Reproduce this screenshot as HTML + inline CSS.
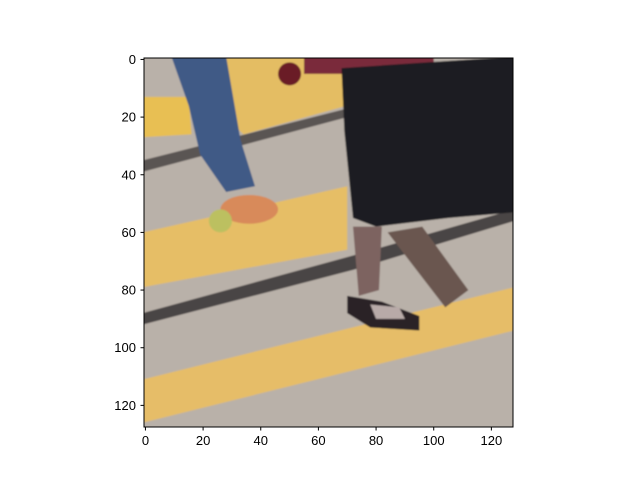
<!DOCTYPE html>
<html><head><meta charset="utf-8"><style>
body{margin:0;background:#fff;width:640px;height:480px;overflow:hidden;font-family:"Liberation Sans","DejaVu Sans",sans-serif}
</style></head><body>
<svg width="640" height="480" xmlns="http://www.w3.org/2000/svg">
<defs><clipPath id="c"><rect x="144" y="58" width="369" height="369"/></clipPath>
<filter id="b"><feGaussianBlur stdDeviation="0.3"/></filter></defs>
<g clip-path="url(#c)">
<g transform="translate(144,58) scale(2.883) translate(0.5,0.5)" filter="url(#b)">
<rect x="-1" y="-1" width="130" height="130" fill="#b9b1a9"/>
<polygon points="28,-1 70,-1 70,16 34,26 28,20" fill="#e4bd64"/>
<polygon points="-1,13 15,13 16,26 -1,27" fill="#e8bf52"/>
<polygon points="-1,35 70,17 70,20 -1,39" fill="#5a5452"/>
<polygon points="-1,60 70,44 70,66 -1,79" fill="#e6be66"/>
<polygon points="-1,88 72,68 128,52 128,56 72,73 -1,92" fill="#4a4444"/>
<polygon points="-1,111 128,79 128,94 -1,126" fill="#e6bd68"/>
<polygon points="9,-1 28,-1 33,28 38,44 28,46 19,33 15,16" fill="#3f5a86"/>
<ellipse cx="36" cy="52" rx="10" ry="5" fill="#d88a5a"/>
<ellipse cx="26" cy="56" rx="4" ry="4" fill="#bcc060"/>
<ellipse cx="50" cy="5" rx="4" ry="4" fill="#6a1c28"/>
<polygon points="55,-1 100,-1 100,5 55,5" fill="#7a2a3a"/>
<polygon points="68,3 128,-1 128,53 105,55 80,58 72,55 69,25" fill="#1c1c22"/>
<polygon points="84,60 96,58 112,80 104,86" fill="#6a5650"/>
<polygon points="72,58 82,58 81,80 74,82" fill="#7d6460"/>
<polygon points="70,82 82,84 95,89 95,94 78,93 70,88" fill="#2a2428"/>
<polygon points="78,85 88,86 90,90 80,90" fill="#b8aaa8"/>
</g></g>
<rect x="144" y="58" width="369" height="369" fill="none" stroke="#000" stroke-width="1"/>
<g id="ticks" font-size="13" fill="#000"></g>
<script>
const xTicks=[0,20,40,60,80,100,120];
const yTicks=[0,20,40,60,80,100,120];
const g=document.getElementById('ticks');
const s=369/128, ox=144, oy=58;
const ns='http://www.w3.org/2000/svg';
xTicks.forEach(v=>{
 const x=ox+(v+0.5)*s;
 const l=document.createElementNS(ns,'line');
 l.setAttribute('x1',x);l.setAttribute('x2',x);l.setAttribute('y1',427);l.setAttribute('y2',430.5);l.setAttribute('stroke','#000');
 
 
 g.appendChild(l);
 const t=document.createElementNS(ns,'text');
 t.setAttribute('x',x);t.setAttribute('y',445);t.setAttribute('text-anchor','middle');t.textContent=v;
 
 
 g.appendChild(t);
});
yTicks.forEach(v=>{
 const y=oy+(v+0.5)*s;
 const l=document.createElementNS(ns,'line');
 l.setAttribute('x1',140.5);l.setAttribute('x2',144);l.setAttribute('y1',y);l.setAttribute('y2',y);l.setAttribute('stroke','#000');
 
 
 g.appendChild(l);
 const t=document.createElementNS(ns,'text');
 t.setAttribute('x',136);t.setAttribute('y',y+4.5);t.setAttribute('text-anchor','end');t.textContent=v;
 
 
 g.appendChild(t);
});
</script>
</svg>
</body></html>
